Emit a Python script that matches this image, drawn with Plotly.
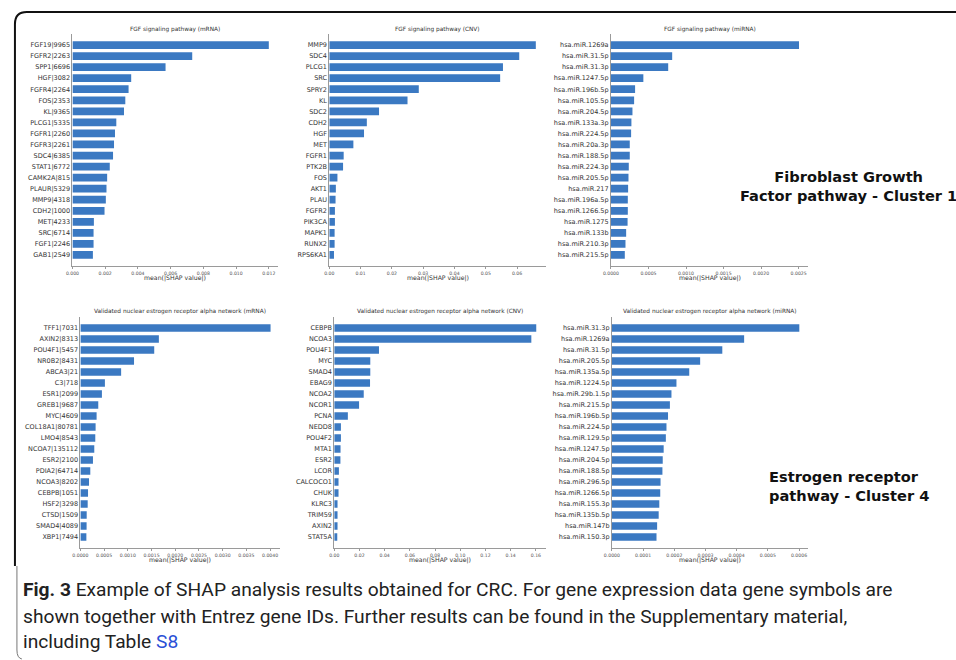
import plotly.graph_objects as go

W, H = 956, 660

# ---- FGF signaling pathway (Cluster 1) ----
fgf_mrna_labels = ["FGF19|9965", "FGFR2|2263", "SPP1|6696", "HGF|3082", "FGFR4|2264",
                   "FOS|2353", "KL|9365", "PLCG1|5335", "FGFR1|2260", "FGFR3|2261",
                   "SDC4|6385", "STAT1|6772", "CAMK2A|815", "PLAUR|5329", "MMP9|4318",
                   "CDH2|1000", "MET|4233", "SRC|6714", "FGF1|2246", "GAB1|2549"]
fgf_mrna_values = [0.01200, 0.00732, 0.00569, 0.00359, 0.00343, 0.00323, 0.00315, 0.00268,
                   0.00260, 0.00254, 0.00248, 0.00228, 0.00212, 0.00208, 0.00204, 0.00196,
                   0.00131, 0.00129, 0.00129, 0.00125]

fgf_cnv_labels = ["MMP9", "SDC4", "PLCG1", "SRC", "SPRY2", "KL", "SDC2", "CDH2", "HGF", "MET",
                  "FGFR1", "PTK2B", "FOS", "AKT1", "PLAU", "FGFR2", "PIK3CA", "MAPK1",
                  "RUNX2", "RPS6KA1"]
fgf_cnv_values = [0.0660, 0.0607, 0.0555, 0.0546, 0.0286, 0.0250, 0.0159, 0.0120, 0.0111,
                  0.0077, 0.0046, 0.0044, 0.0026, 0.0021, 0.0020, 0.0018, 0.0018, 0.0017,
                  0.0017, 0.0015]

fgf_mirna_labels = ["hsa.miR.1269a", "hsa.miR.31.5p", "hsa.miR.31.3p", "hsa.miR.1247.5p",
                    "hsa.miR.196b.5p", "hsa.miR.105.5p", "hsa.miR.204.5p", "hsa.miR.133a.3p",
                    "hsa.miR.224.5p", "hsa.miR.20a.3p", "hsa.miR.188.5p", "hsa.miR.224.3p",
                    "hsa.miR.205.5p", "hsa.miR.217", "hsa.miR.196a.5p", "hsa.miR.1266.5p",
                    "hsa.miR.1275", "hsa.miR.133b", "hsa.miR.210.3p", "hsa.miR.215.5p"]
fgf_mirna_values = [0.002505, 0.000816, 0.000763, 0.000432, 0.000322, 0.000309, 0.000287,
                    0.000273, 0.000269, 0.000251, 0.000251, 0.000238, 0.000234, 0.000229,
                    0.000225, 0.000225, 0.000222, 0.000203, 0.000194, 0.000185]

# ---- Validated nuclear estrogen receptor alpha network (Cluster 4) ----
esr_mrna_labels = ["TFF1|7031", "AXIN2|8313", "POU4F1|5457", "NR0B2|8431", "ABCA3|21",
                   "C3|718", "ESR1|2099", "GREB1|9687", "MYC|4609", "COL18A1|80781",
                   "LMO4|8543", "NCOA7|135112", "ESR2|2100", "PDIA2|64714", "NCOA3|8202",
                   "CEBPB|1051", "HSF2|3298", "CTSD|1509", "SMAD4|4089", "XBP1|7494"]
esr_mrna_values = [0.00401, 0.001655, 0.001557, 0.001131, 0.000859, 0.000517, 0.000454,
                   0.000377, 0.000342, 0.000321, 0.000314, 0.000293, 0.000265, 0.000209,
                   0.000182, 0.000161, 0.000154, 0.000133, 0.000131, 0.000126]

esr_cnv_labels = ["CEBPB", "NCOA3", "POU4F1", "MYC", "SMAD4", "EBAG9", "NCOA2", "NCOR1",
                  "PCNA", "NEDD8", "POU4F2", "MTA1", "ESR2", "LCOR", "CALCOCO1", "CHUK",
                  "KLRC3", "TRIM59", "AXIN2", "STAT5A"]
esr_cnv_values = [0.1603, 0.1564, 0.0355, 0.0286, 0.0286, 0.0284, 0.0234, 0.0197, 0.0108,
                  0.0053, 0.0053, 0.0050, 0.0049, 0.0037, 0.0034, 0.0034, 0.0026, 0.0026,
                  0.0026, 0.0024]

esr_mirna_labels = ["hsa.miR.31.3p", "hsa.miR.1269a", "hsa.miR.31.5p", "hsa.miR.205.5p",
                    "hsa.miR.135a.5p", "hsa.miR.1224.5p", "hsa.miR.29b.1.5p", "hsa.miR.215.5p",
                    "hsa.miR.196b.5p", "hsa.miR.224.5p", "hsa.miR.129.5p", "hsa.miR.1247.5p",
                    "hsa.miR.204.5p", "hsa.miR.188.5p", "hsa.miR.296.5p", "hsa.miR.1266.5p",
                    "hsa.miR.155.3p", "hsa.miR.135b.5p", "hsa.miR.147b", "hsa.miR.150.3p"]
esr_mirna_values = [0.000601, 0.000424, 0.000354, 0.000283, 0.000248, 0.000207, 0.000191,
                    0.000186, 0.000180, 0.000175, 0.000173, 0.000166, 0.000163, 0.000162,
                    0.000156, 0.000155, 0.000152, 0.000150, 0.000145, 0.000143]

panel_titles = ["FGF signaling pathway (mRNA)", "FGF signaling pathway (CNV)",
                "FGF signaling pathway (miRNA)",
                "Validated nuclear estrogen receptor alpha network (mRNA)",
                "Validated nuclear estrogen receptor alpha network (CNV)",
                "Validated nuclear estrogen receptor alpha network (miRNA)"]
x_label = "mean(|SHAP value|)"
cluster_notes = ["Fibroblast Growth<br>Factor pathway - Cluster 1",
                 "Estrogen receptor<br>pathway - Cluster 4"]
caption_lines = [
    "<b>Fig. 3</b> Example of SHAP analysis results obtained for CRC. For gene expression data gene symbols are",
    "shown together with Entrez gene IDs. Further results can be found in the Supplementary material,",
    "including Table <span style=\"color:#2a4fd6\">S8</span>",
]

# panel layout: (labels, values, x-pixel left, x-pixel right, y-pixel top, y-pixel bottom, x max, dtick, fmt)
panels = [
    (fgf_mrna_labels, fgf_mrna_values, 65, 272, 34, 266, 0.012545, 0.002, ".3f"),
    (fgf_cnv_labels, fgf_cnv_values, 324, 543, 34, 266, 0.0694, 0.01, ".2f"),
    (fgf_mirna_labels, fgf_mirna_values, 608, 807, 34, 266, 0.002628, 0.0005, ".4f"),
    (esr_mrna_labels, esr_mrna_values, 73, 274, 317, 548, 0.004203, 0.0005, ".4f"),
    (esr_cnv_labels, esr_cnv_values, 329, 543, 317, 548, 0.1684, 0.02, ".2f"),
    (esr_mirna_labels, esr_mirna_values, 609, 807, 317, 548, 0.0006296, 0.0001, ".4f"),
]


def px(x):
    return x / W


def py(y):
    return 1 - y / H


BAR = "#3b79c2"
AXC = "#9a9a9a"
TXT = "#333333"
FONT = "DejaVu Sans"

fig = go.Figure()
annotations = []
for i, (labels, values, xl, xr, yt, yb, xmax, dtick, fmt) in enumerate(panels, start=1):
    sfx = "" if i == 1 else str(i)
    n = len(labels)
    fig.add_trace(go.Bar(
        x=values, y=list(range(n)), orientation="h",
        marker=dict(color=BAR, line=dict(width=0)), width=0.7,
        xaxis="x" + sfx, yaxis="y" + sfx, showlegend=False,
    ))
    fig.layout["xaxis" + sfx] = dict(
        domain=[px(xl), px(xr)], anchor="y" + sfx, range=[0, xmax],
        tick0=0, dtick=dtick, tickformat=fmt, showgrid=False, zeroline=False,
        showline=True, linecolor=AXC, linewidth=1, ticks="outside", ticklen=2,
        tickcolor=AXC, tickfont=dict(family=FONT, size=4.6, color="#555"),
    )
    fig.layout["yaxis" + sfx] = dict(
        domain=[py(yb), py(yt)], anchor="x" + sfx, range=[n, -1],
        tickvals=list(range(n)), ticktext=labels, showgrid=False, zeroline=False,
        showline=True, linecolor=AXC, linewidth=1, ticks="",
        tickfont=dict(family=FONT, size=6.5, color=TXT),
    )
    cx = px((xl + xr) / 2)
    annotations.append(dict(text=panel_titles[i - 1], x=cx, y=py(yt - 5), xref="paper",
                            yref="paper", showarrow=False, xanchor="center", yanchor="middle",
                            font=dict(family=FONT, size=5.8, color=TXT)))
    annotations.append(dict(text=x_label, x=cx, y=py(yb + 11.5), xref="paper", yref="paper",
                            showarrow=False, xanchor="center", yanchor="middle",
                            font=dict(family=FONT, size=6.2, color=TXT)))

# cluster notes
annotations.append(dict(text="<b>" + cluster_notes[0] + "</b>", x=px(848), y=py(186),
                        xref="paper", yref="paper", showarrow=False, xanchor="center",
                        yanchor="middle", align="center",
                        font=dict(family="DejaVu Sans", size=14.6, color="#111")))
annotations.append(dict(text="<b>" + cluster_notes[1] + "</b>", x=px(765), y=py(486),
                        xref="paper", yref="paper", showarrow=False, xanchor="left",
                        yanchor="middle", align="left",
                        font=dict(family="DejaVu Sans", size=14.6, color="#111")))

# caption
for line, yc in zip(caption_lines, [589, 616, 641]):
    annotations.append(dict(text=line, x=px(13), y=py(yc), xref="paper", yref="paper",
                            showarrow=False, xanchor="left", yanchor="middle",
                            font=dict(family="Roboto, sans-serif", size=19.2, color="#222")))

# figure frame
shapes = [
    dict(type="path", xref="paper", yref="paper",
         path=f"M {px(7)},{py(566)} L {px(7)},{py(24)} Q {px(7)},{py(12)} {px(19)},{py(12)} L {px(956)},{py(12)}",
         line=dict(color="#111", width=2)),
    dict(type="path", xref="paper", yref="paper",
         path=f"M {px(9)},{py(566)} L {px(9)},{py(650)} Q {px(9)},{py(658)} {px(14)},{py(659)}",
         line=dict(color="#777", width=1)),
]

fig.update_layout(
    width=W, height=H, margin=dict(l=0, r=0, t=0, b=0),
    paper_bgcolor="white", plot_bgcolor="white", bargap=0.3,
    annotations=annotations, shapes=shapes,
)

fig.write_html("out.html")
